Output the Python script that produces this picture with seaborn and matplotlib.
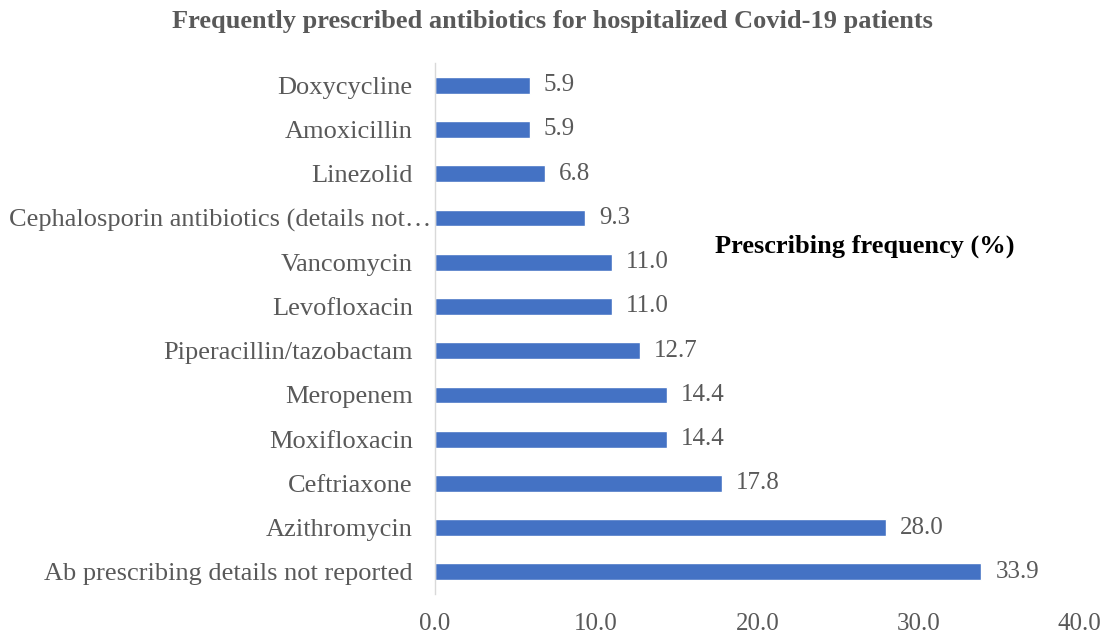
import matplotlib
matplotlib.use("Agg")
import matplotlib.pyplot as plt
import matplotlib.transforms as mtrans
import seaborn as sns
import pandas as pd

categories = ["Doxycycline", "Amoxicillin", "Linezolid",
              "Cephalosporin antibiotics (details not…", "Vancomycin",
              "Levofloxacin", "Piperacillin/tazobactam", "Meropenem",
              "Moxifloxacin", "Ceftriaxone", "Azithromycin",
              "Ab prescribing details not reported"]
values = [5.9, 5.9, 6.8, 9.3, 11.0, 11.0, 12.7, 14.4, 14.4, 17.8, 28.0, 33.9]
xticks = [0, 10, 20, 30, 40]

title = "Frequently prescribed antibiotics for hospitalized Covid-19 patients"
axis_title = "Prescribing frequency (%)"

df = pd.DataFrame({"cat": categories, "val": values})

sns.set_style("white")
plt.rcParams['font.family'] = ['Liberation Serif', 'DejaVu Serif']

fig = plt.figure(figsize=(11.04, 6.35), dpi=100)
ax = fig.add_axes([0.394, 0.0646, 0.584, 0.836])

sns.barplot(data=df, x="val", y="cat", color="#4472C4", width=0.38,
            saturation=1, ax=ax, orient="h")

gray = "#595959"
for i, v in enumerate(values):
    ax.annotate(f"{v:.1f}", xy=(v, i), xytext=(10, 0), textcoords="offset points",
                va="center", ha="left", fontsize=18, color=gray)

ax.set_xlim(0, 40)
ax.set_xticks(xticks)
ax.set_xticklabels([f"{t:.1f}" for t in xticks], fontsize=18, color=gray)
ax.tick_params(axis="y", labelsize=19, labelcolor=gray, length=0, pad=16)
ax.tick_params(axis="x", length=0, pad=14)
ax.set_xlabel("")
ax.set_ylabel("")
for s in ["top", "right", "bottom"]:
    ax.spines[s].set_visible(False)
ax.spines["left"].set_color("#D9D9D9")
ax.spines["left"].set_linewidth(1)

# truncated label sits right against the axis
for lab in ax.get_yticklabels():
    if lab.get_text().endswith("…"):
        lab.set_transform(lab.get_transform() +
                          mtrans.ScaledTranslation(13 / 72, 0, fig.dpi_scale_trans))

fig.text(0.5, 0.966, title, ha="center", va="center", fontsize=19,
         fontweight="bold", color=gray)
fig.text(0.648, 0.612, axis_title, ha="left", va="center", fontsize=19,
         fontweight="bold", color="black")

fig.savefig("out.png", dpi=100)
